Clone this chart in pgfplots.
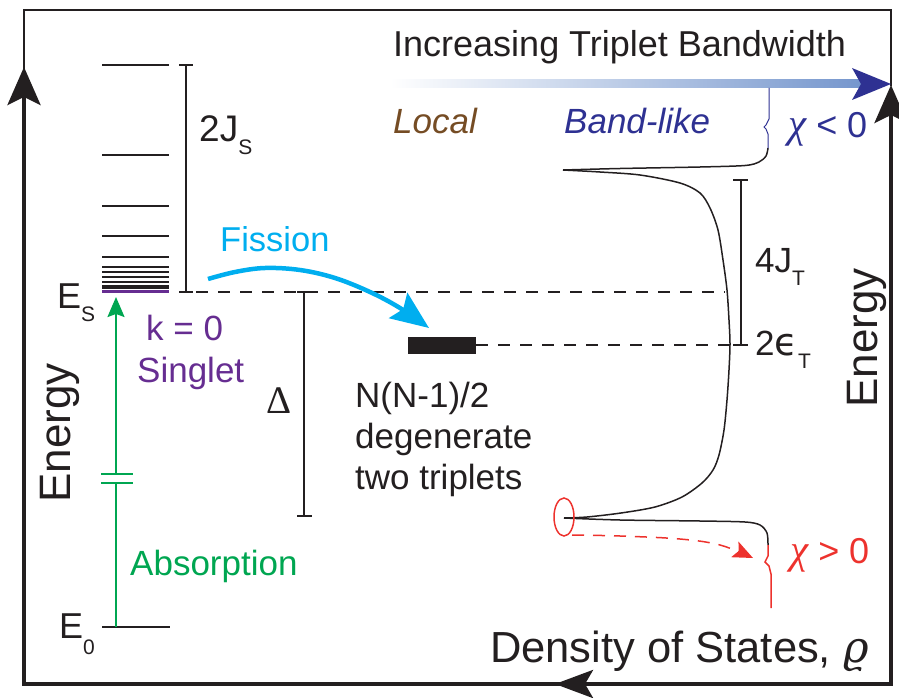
\documentclass[border=0pt]{standalone}
\usepackage{pgfplots}
\pgfplotsset{compat=1.18}
\usetikzlibrary{arrows.meta}
\usepackage{fontspec}
\setmainfont{Liberation Sans}
\newfontfamily\serifgreek{Liberation Serif}
\newfontfamily\dvsans{DejaVu Sans}
\newfontfamily\dvserif{DejaVu Serif}

\definecolor{ink}{RGB}{35,31,32}
\definecolor{fission}{RGB}{0,174,239}
\definecolor{absgreen}{RGB}{0,166,81}
\definecolor{singlet}{RGB}{102,45,145}
\definecolor{localbrown}{RGB}{117,76,36}
\definecolor{bandblue}{RGB}{46,49,146}
\definecolor{shaftblue}{RGB}{117,150,205}
\definecolor{chired}{RGB}{237,50,45}

\newcommand\fsz[1]{\fontsize{#1pt}{#1pt}\selectfont}
\newcommand\sub[2][13pt]{\raisebox{-#1}{\fsz{21}#2}}
\newcommand\chisym{{\serifgreek\itshape\fsz{41}χ}}

\begin{document}
\begin{tikzpicture}[every node/.style={inner sep=0pt, text=ink}]
\begin{axis}[
  scale only axis, width=899pt, height=698pt,
  xmin=0, xmax=899, ymin=0, ymax=698, y dir=reverse,
  hide axis, clip=false]

% ---- frame: energy axes and density-of-states axis
\addplot[ink, line width=2pt, line join=miter]
  coordinates {(24,70) (24,10) (891,10) (891,86)};
\addplot[ink, line width=4pt, line join=miter,
  {Stealth[length=38pt,width=33pt,inset=8pt]}-{Stealth[length=38pt,width=33pt,inset=8pt]}]
  coordinates {(24,67) (24,684) (891,684) (891,85)};
\addplot[ink, line width=4pt, -{Stealth[length=38pt,width=28pt,inset=8pt]}]
  coordinates {(720,684) (555,684)};

% ---- bandwidth arrow
\addplot[draw=none, left color=white, right color=shaftblue]
  coordinates {(390,80) (862,80) (862,88) (390,88)} --cycle;
\addplot[draw=none, fill=bandblue]
  coordinates {(891,84) (852,68) (861,84) (852,100)} --cycle;

% ---- singlet manifold
\pgfplotsinvokeforeach{65,155,206,236,257}{
  \addplot[ink, line width=2pt] coordinates {(102,#1) (169,#1)};}
\pgfplotsinvokeforeach{267,272,277,282}{
  \addplot[ink, line width=1.6pt] coordinates {(102,#1) (169,#1)};}
\addplot[ink, line width=3.4pt] coordinates {(102,287) (169,287)};
\addplot[singlet, line width=3.6pt] coordinates {(102,291.5) (169,291.5)};
% ground state
\addplot[ink, line width=2pt] coordinates {(102,627) (170,627)};

% ---- absorption arrow with axis break
\addplot[absgreen, line width=2pt] coordinates {(116,627) (116,483)};
\addplot[absgreen, line width=2pt, -{Stealth[length=20pt,width=17pt,inset=3pt]}]
  coordinates {(116,474) (116,297)};
\addplot[absgreen, line width=2pt] coordinates {(101,474) (133,474)};
\addplot[absgreen, line width=2pt] coordinates {(101,483) (133,483)};

% ---- brackets
\addplot[ink, line width=2pt] coordinates {(186,65) (186,292)};
\addplot[ink, line width=2.5pt] coordinates {(179,65) (193,65)};
\addplot[ink, line width=2.5pt] coordinates {(179,292) (193,292)};
\addplot[ink, line width=2pt] coordinates {(304,292) (304,516)};
\addplot[ink, line width=2.5pt] coordinates {(297,292) (312,292)};
\addplot[ink, line width=2.5pt] coordinates {(297,516) (312,516)};
\addplot[ink, line width=2pt] coordinates {(741,180) (741,345)};
\addplot[ink, line width=2.5pt] coordinates {(733,180) (748,180)};
\addplot[ink, line width=2.5pt] coordinates {(733,345) (748,345)};

% ---- dashed reference levels
\addplot[ink, line width=1.8pt, dash pattern=on 12pt off 10pt]
  coordinates {(196,292) (725,292)};
\addplot[ink, line width=1.8pt, dash pattern=on 12pt off 10pt]
  coordinates {(476,345) (733,345)};

% ---- degenerate triplet pairs
\addplot[draw=none, fill=ink]
  coordinates {(408,337) (476,337) (476,354) (408,354)} --cycle;

% ---- fission arrow
\addplot[fission, line width=4.5pt, smooth, tension=0.6,
  -{Stealth[length=38pt,width=31pt,inset=6pt]}]
  coordinates {(208,279) (235,272) (265,268) (300,270) (335,278) (370,292) (400,308) (429,328)};

% ---- triplet-pair density of states
\addplot[ink, line width=1.5pt, smooth, tension=0.5]
  coordinates {(563,170) (620,168.5) (700,167) (745,165.5) (759,162) (766,156) (768,148)};
\addplot[ink, line width=1.5pt, smooth, tension=0.5]
  coordinates {(563,170) (600,172) (640,175) (680,183) (700,193) (710,208) (718,230)
               (723,260) (727,290) (729,320) (730,344) (729,370) (727,400) (724,430)
               (719,455) (713,470) (702,483) (682,497) (655,507) (621,513) (587,517) (564,518)};
\addplot[ink, line width=1.5pt, smooth, tension=0.5]
  coordinates {(564,518) (620,520) (700,521) (745,522) (760,525) (767,533) (768,545)};
% band-like region (chi < 0)
\addplot[bandblue, line width=1pt]
  coordinates {(768,148) (768,134) (766,129) (764,127) (766,125) (769,119) (769,88)};
% localised region (chi > 0)
\addplot[chired, line width=1.5pt]
  coordinates {(768,545) (768,556) (765,562) (769,566) (771,574) (771,608)};
\draw[chired, line width=1.5pt] (axis cs:564,517) ellipse [x radius=10pt, y radius=19pt];
\addplot[chired, line width=1.5pt, dash pattern=on 12pt off 9pt, smooth, tension=0.6,
  -{Stealth[length=20pt,width=17pt,inset=4pt]}]
  coordinates {(572,535) (620,536) (680,539) (720,545) (753,558)};

% ---- labels
\node[anchor=base west, font=\fsz{36}] at (axis cs:393,57) {Increasing Triplet Bandwidth};
\node[anchor=base west, font=\fsz{35}\itshape, text=localbrown] at (axis cs:393,133) {Local};
\node[anchor=base west, font=\fsz{35}\itshape, text=bandblue] at (axis cs:564,133) {Band-like};
\node[anchor=base west, font=\fsz{36}, text=bandblue] at (axis cs:788,138) {\chisym\ < 0};
\node[anchor=base west, font=\fsz{36}, text=chired] at (axis cs:790,563) {\chisym\ > 0};

\node[anchor=base west, font=\fsz{37}] at (axis cs:199,142) {2J\sub{S}};
\node[anchor=base west, font=\fsz{34.5}, text=fission] at (axis cs:220,251) {Fission};
\node[anchor=base west, font=\fsz{36}] at (axis cs:57,308) {E\sub{S}};
\node[anchor=base west, font=\fsz{35}, text=singlet] at (axis cs:146,340) {k = 0};
\node[anchor=base west, font=\fsz{35}, text=singlet] at (axis cs:137,382) {Singlet};
\node[anchor=base west, font=\fsz{39}\serifgreek] at (axis cs:266,413) {Δ};
\node[anchor=base west, font=\fsz{35}] at (axis cs:355,407) {N(N-1)/2};
\node[anchor=base west, font=\fsz{35}] at (axis cs:355,448) {degenerate};
\node[anchor=base west, font=\fsz{35}] at (axis cs:355,489) {two triplets};
\node[anchor=base west, font=\fsz{35}, text=absgreen] at (axis cs:130,575) {Absorption};
\node[anchor=base west, font=\fsz{36}] at (axis cs:59,638) {E\sub[16pt]{0}};
\node[anchor=base west, font=\fsz{35}] at (axis cs:755,272) {4J\sub{T}};
\node[anchor=base west, font=\fsz{35}] at (axis cs:755,355) {2{\dvsans\fsz{38}ϵ}\sub{T}};

\node[rotate=90, anchor=base, font=\fsz{44}] at (axis cs:70,433) {Energy};
\node[rotate=90, anchor=base, font=\fsz{44}] at (axis cs:877,338) {Energy};
\node[anchor=base west, font=\fsz{43.5}] at (axis cs:490,662)
  {Density of States, {\dvserif\itshape ϱ}};
\end{axis}
\pgfresetboundingbox
\path[use as bounding box] (0,0) rectangle (899pt,698pt);
\end{tikzpicture}
\end{document}
